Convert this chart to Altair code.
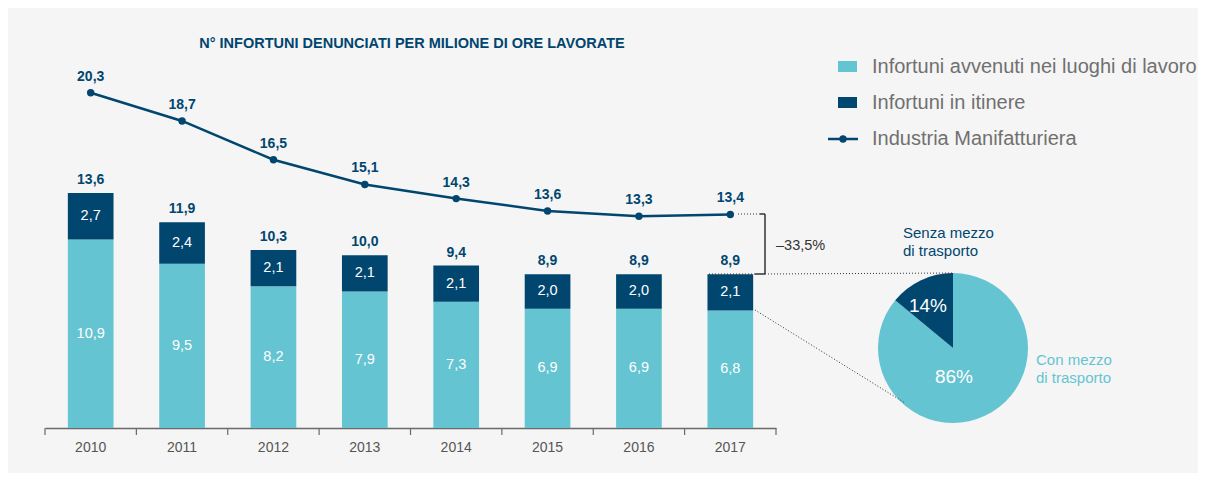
import altair as alt
import pandas as pd

# ---------------- data ----------------
years = ["2010", "2011", "2012", "2013", "2014", "2015", "2016", "2017"]
work = [10.9, 9.5, 8.2, 7.9, 7.3, 6.9, 6.9, 6.8]          # Infortuni avvenuti nei luoghi di lavoro
itinere = [2.7, 2.4, 2.1, 2.1, 2.1, 2.0, 2.0, 2.1]         # Infortuni in itinere
total = [13.6, 11.9, 10.3, 10.0, 9.4, 8.9, 8.9, 8.9]       # totale
manif = [20.3, 18.7, 16.5, 15.1, 14.3, 13.6, 13.3, 13.4]   # Industria Manifatturiera

pie_cats = ["Con mezzo di trasporto", "Senza mezzo di trasporto"]
pie_share = [86, 14]
pie_order = [0, 1]

legend_labels = ["Infortuni avvenuti nei luoghi di lavoro", "Infortuni in itinere", "Industria Manifatturiera"]
title_text = "N° INFORTUNI DENUNCIATI PER MILIONE DI ORE LAVORATE"
change_text = "\u201333,5%"

TEAL = "#65c4d2"
NAVY = "#01466f"
GREY = "#707070"
DARK = "#333333"
AXIS = "#6a6a6a"
FONT = "Liberation Sans"

df = pd.DataFrame({"year": years, "work": work, "itinere": itinere, "total": total, "manif": manif})
pie_df = pd.DataFrame({"cat": pie_cats, "share": pie_share, "ord": pie_order})
one = pd.DataFrame({"k": [0]})

# ---------------- scales ----------------
X0, X1 = 37, 768
STEP = (X1 - X0) / len(years)
xaxis = alt.Axis(title=None, labelFontSize=14, labelColor="#555555", labelFont=FONT, labelAngle=0,
                 domainColor=AXIS, domainWidth=1.5, ticks=False, labelPadding=12, grid=False)
xscale = alt.Scale(range=[X0, X1], paddingInner=0.5, paddingOuter=0.25)


def X():
    return alt.X("year:N", scale=xscale, axis=xaxis, title=None)


ybar = alt.Scale(domain=[0, 24.3])
yline = alt.Scale(domain=[1.3, 25.1])

fmt = lambda f: f"replace(format(datum.{f}, '.1f'), '.', ',')"
base = alt.Chart(df).transform_calculate(
    top="datum.work + datum.itinere",
    mid_work="datum.work / 2",
    mid_itin="datum.work + datum.itinere / 2",
    lab_work=fmt("work"),
    lab_itin=fmt("itinere"),
    lab_total=fmt("total"),
    lab_manif=fmt("manif"),
)

bar_work = base.mark_bar(color=TEAL).encode(
    x=X(), y=alt.Y("work:Q", scale=ybar, axis=None))
bar_itin = base.mark_bar(color=NAVY).encode(
    x=X(), y=alt.Y("work:Q", scale=ybar, axis=None), y2="top:Q")
lab_w = base.mark_text(color="white", fontSize=14.5, font=FONT).encode(
    x=X(), y=alt.Y("mid_work:Q", scale=ybar, axis=None), text="lab_work:N")
lab_i = base.mark_text(color="white", fontSize=14.5, font=FONT).encode(
    x=X(), y=alt.Y("mid_itin:Q", scale=ybar, axis=None), text="lab_itin:N")
lab_t = base.mark_text(color=NAVY, fontSize=14, fontWeight="bold", font=FONT, dy=-13).encode(
    x=X(), y=alt.Y("total:Q", scale=ybar, axis=None), text="lab_total:N")
# axis ticks at the boundaries between years
ticks_l = base.mark_rule(color=AXIS, strokeWidth=1.2, xOffset=-STEP / 2).encode(
    x=X(), y=alt.value(420), y2=alt.value(427))
ticks_r = base.transform_filter(f"datum.year == '{years[-1]}'").mark_rule(
    color=AXIS, strokeWidth=1.2, xOffset=STEP / 2).encode(
    x=X(), y=alt.value(420), y2=alt.value(427))
bars = alt.layer(bar_work, bar_itin, lab_w, lab_i, lab_t, ticks_l, ticks_r)

line = base.mark_line(color=NAVY, strokeWidth=2.5).encode(
    x=X(), y=alt.Y("manif:Q", scale=yline, axis=None))
pts = base.mark_circle(color=NAVY, size=55, opacity=1).encode(
    x=X(), y=alt.Y("manif:Q", scale=yline, axis=None))
lab_m = base.mark_text(color=NAVY, fontSize=14, fontWeight="bold", font=FONT, dy=-16).encode(
    x=X(), y=alt.Y("manif:Q", scale=yline, axis=None), text="lab_manif:N")
lines = alt.layer(line, pts, lab_m)

# ---------------- pie ----------------
pie = alt.Chart(pie_df).mark_arc(outerRadius=75).encode(
    theta=alt.Theta("share:Q", stack=True),
    order=alt.Order("ord:Q"),
    color=alt.Color("cat:N", scale=alt.Scale(domain=pie_cats, range=[TEAL, NAVY]), legend=None),
    x=alt.value(945), y=alt.value(340),
)


def txt(s, x, y, **kw):
    return alt.Chart(one).mark_text(font=FONT, **kw).encode(
        x=alt.value(x), y=alt.value(y), text=alt.value(s))


def rule(x1, y1, x2, y2, **kw):
    return alt.Chart(one).mark_rule(**kw).encode(
        x=alt.value(x1), y=alt.value(y1), x2=alt.value(x2), y2=alt.value(y2))


def rect(x1, y1, x2, y2, color):
    return alt.Chart(one).mark_rect(color=color).encode(
        x=alt.value(x1), y=alt.value(y1), x2=alt.value(x2), y2=alt.value(y2))


dots = dict(color=DARK, strokeWidth=1, strokeDash=[1, 2])
solid = dict(color=DARK, strokeWidth=1.5)

annots = [
    txt(title_text, 404, 36, fontSize=14.5, fontWeight="bold", color=NAVY, align="center", baseline="middle"),
    # pie labels
    txt("14%", 920, 298, fontSize=19, color="white", align="center", baseline="middle"),
    txt("86%", 946, 369, fontSize=19, color="white", align="center", baseline="middle"),
    txt(["Senza mezzo", "di trasporto"], 895, 225, fontSize=15, color=NAVY, align="left",
        baseline="middle", lineHeight=18),
    txt(["Con mezzo", "di trasporto"], 1028, 352, fontSize=15, color=TEAL, align="left",
        baseline="middle", lineHeight=18),
    txt(change_text, 768, 238, fontSize=14.5, color=DARK, align="left", baseline="middle"),
    # connector lines
    rule(730, 206, 752, 206, **dots),
    rule(752, 206, 757, 206, **solid),
    rule(757, 206, 757, 266, **solid),
    rule(747, 266, 757, 266, **solid),
    rule(701, 266, 747, 266, **dots),
    rule(757, 266, 945, 265, **dots),
    rule(747, 302, 897, 395, **dots),
    # legend
    rect(830, 53, 849, 64, TEAL),
    rect(830, 89, 849, 100, NAVY),
    rule(820, 131, 850, 131, color=NAVY, strokeWidth=2.5),
    alt.Chart(one).mark_circle(color=NAVY, size=55, opacity=1).encode(x=alt.value(835), y=alt.value(131)),
    txt(legend_labels[0], 864, 59, fontSize=20, color=GREY, align="left", baseline="middle"),
    txt(legend_labels[1], 864, 95, fontSize=20, color=GREY, align="left", baseline="middle"),
    txt(legend_labels[2], 864, 131, fontSize=20, color=GREY, align="left", baseline="middle"),
]

chart = alt.layer(bars, lines, pie, *annots).resolve_scale(y="independent").properties(
    width=1190, height=420,
    autosize=alt.AutoSizeParams(type="none"),
    padding={"left": 0, "top": 0, "right": 0, "bottom": 45},
    background="#f5f5f5",
).configure(font=FONT).configure_view(stroke=None)

chart.save("out.html", embed_options={"renderer": "svg", "actions": False})
